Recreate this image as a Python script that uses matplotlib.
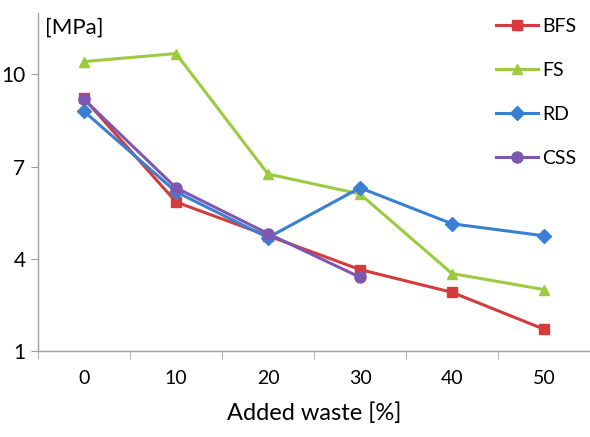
import matplotlib
matplotlib.use("Agg")
import matplotlib.pyplot as plt
import numpy as np

plt.rcParams['font.family'] = ['Lato', 'DejaVu Sans']

categories = ["0", "10", "20", "30", "40", "50"]
bfs = [9.22, 5.85, 4.75, 3.65, 2.91, 1.71]
fs = [10.42, 10.68, 6.76, 6.11, 3.52, 3.0]
rd = [8.8, 6.18, 4.69, 6.31, 5.14, 4.75]
css = [9.19, 6.31, 4.82, 3.4]
series_names = ["BFS", "FS", "RD", "CSS"]
yticks = [1, 4, 7, 10]

colors = ['#D63B3B', '#9DCB3F', '#3A80D2', '#7E57B0']
markers = ['s', '^', 'D', 'o']
msizes = [7, 7.5, 7, 8]

fig = plt.figure(figsize=(5.9, 4.37), dpi=100)
ax = fig.add_axes([38/590, 1-351/437, 1-38/590, (351-13)/437])

x = np.arange(len(categories))
for name, vals, c, m, ms in zip(series_names, [bfs, fs, rd, css], colors, markers, msizes):
    ax.plot(x[:len(vals)], vals, color=c, marker=m, markersize=ms, linewidth=2.2,
            label=name, markeredgecolor=c)

ax.set_xlim(-0.5, 5.5)
ax.set_ylim(1, 12)
ax.set_yticks(yticks)
ax.set_yticklabels([str(t) for t in yticks], fontsize=15)
ax.set_xticks(x)
ax.set_xticklabels(categories, fontsize=14)
ax.set_xticks(np.arange(-0.5, 6.0, 1.0), minor=True)
ax.tick_params(axis='x', which='major', length=0, pad=14)
ax.tick_params(axis='x', which='minor', length=6, color='#A0A0A0', direction='out')
ax.tick_params(axis='y', length=5, color='#A0A0A0', direction='out', pad=4)

for s in ['top', 'right']:
    ax.spines[s].set_visible(False)
for s in ['left', 'bottom']:
    ax.spines[s].set_color('#A0A0A0')
    ax.spines[s].set_linewidth(1.0)

ax.set_xlabel("Added waste [%]", fontsize=17, labelpad=11)
ax.text(0.012, 0.985, "[MPa]", transform=ax.transAxes, fontsize=16, va='top', ha='left')

leg = ax.legend(loc='upper right', bbox_to_anchor=(1.0, 1.025), frameon=False, fontsize=14,
                labelspacing=1.38, handlelength=2.2, handletextpad=0.2, borderaxespad=0.3)

fig.savefig("out.png", dpi=100)
